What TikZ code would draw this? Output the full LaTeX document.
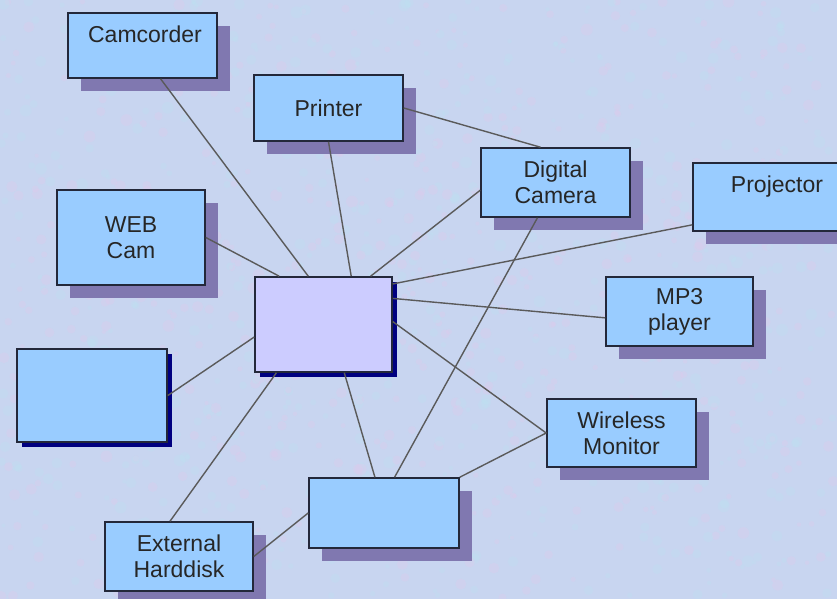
\documentclass[tikz,border=0pt]{standalone}
\usepackage{fontspec}
\setmainfont{Liberation Sans}
\usetikzlibrary{calc,shadows}
\definecolor{backc}{HTML}{C8D5F0}
\definecolor{pinkc}{HTML}{E2C8EC}
\definecolor{cyanc}{HTML}{BCE2F2}
\definecolor{boxc}{HTML}{99CCFF}
\definecolor{hubc}{HTML}{CCCCFF}
\definecolor{shdc}{HTML}{8078B0}
\definecolor{navyc}{HTML}{000080}
\definecolor{edgec}{HTML}{5A5A5A}
\definecolor{framec}{HTML}{23283A}

\begin{document}
\begin{tikzpicture}[x=1pt,y=-1pt,
    box/.style={draw=framec, line width=1.6pt, fill=boxc, inner sep=0pt,
      text=black!85, align=center, font=\fontsize{23}{26}\selectfont},
    device/.style={box, drop shadow={shadow xshift=13pt, shadow yshift=-13pt, fill=shdc, opacity=1}},
    plain/.style={box, drop shadow={shadow xshift=5pt, shadow yshift=-5pt, fill=navyc, opacity=1}},
    link/.style={draw=edgec, line width=1.4pt}]
		%%%%% BACKGROUND %%%%%
		\path[use as bounding box, fill=backc] (0, 0) rectangle (837, 599);
		\pgfmathsetseed{11}
		\foreach \i in {1,...,600}{
			\fill[pinkc, opacity=0.3] (837*rnd, 599*rnd) circle (2+4*rnd);
			\fill[cyanc, opacity=0.3] (837*rnd, 599*rnd) circle (2+4*rnd);
		}
		
		%%%%% BOXES %%%%%
		\node[device, minimum width=149, minimum height=65,
			label={[xshift=2.5pt, yshift=11.5pt, text=black!85, font=\fontsize{23}{26}\selectfont]center:Camcorder}] (cam) at (142.5, 45.5) {};
		\node[device, minimum width=149, minimum height=66] (prn) at (328.5, 108) {Printer};
		\node[device, minimum width=149, minimum height=69] (dig) at (555.5, 182.5) {Digital\\Camera};
		\node[device, minimum width=157, minimum height=68,
			label={[xshift=5.5pt, yshift=10pt, text=black!85, font=\fontsize{23}{26}\selectfont]center:Projector}] (prj) at (771.5, 197) {};
		\node[device, minimum width=148, minimum height=95] (web) at (131, 237.5) {WEB\\Cam};
		\node[device, minimum width=147, minimum height=69] (mp3) at (679.5, 311.5) {MP3\\player};
		\node[device, minimum width=149, minimum height=68] (wir) at (621.5, 433) {Wireless\\Monitor};
		\node[plain, fill=hubc, minimum width=137, minimum height=95] (hub) at (323.5, 324.5) {};
		\node[plain, minimum width=150, minimum height=93] (lft) at (92, 395.5) {};
		\node[device, minimum width=150, minimum height=70] (bot) at (384, 513) {};
		\node[device, minimum width=148, minimum height=69] (hdd) at (179, 556.5) {External\\Harddisk};
		
		%%%%% LINKS %%%%%
		\draw[link] ($(cam.south west)!0.62!(cam.south east)$) -- ($(hub.north west)!0.39!(hub.north east)$);
		\draw[link] (prn.south) -- ($(hub.north west)!0.70!(hub.north east)$);
		\draw[link] ($(dig.north west)!0.61!(dig.south west)$) -- ($(hub.north west)!0.84!(hub.north east)$);
		\draw[link] (web.east) -- ($(hub.north west)!0.18!(hub.north east)$);
		\draw[link] ($(prj.north west)!0.9!(prj.south west)$) -- ($(hub.north east)!0.08!(hub.south east)$);
		\draw[link] ($(mp3.north west)!0.59!(mp3.south west)$) -- ($(hub.north east)!0.23!(hub.south east)$);
		\draw[link] (wir.west) -- ($(hub.north east)!0.47!(hub.south east)$);
		\draw[link] (lft.east) -- ($(hub.north west)!0.63!(hub.south west)$);
		\draw[link] ($(hdd.north west)!0.44!(hdd.north east)$) -- ($(hub.south west)!0.16!(hub.south east)$);
		\draw[link] ($(hub.south west)!0.65!(hub.south east)$) -- ($(bot.north west)!0.44!(bot.north east)$);
		
		\draw[link] (prn.east) -- ($(dig.north west)!0.40!(dig.north east)$);
		\draw[link] ($(dig.south west)!0.38!(dig.south east)$) -- ($(bot.north west)!0.57!(bot.north east)$);
		\draw[link] (bot.north east) -- (wir.west);
		\draw[link] (hdd.east) -- (bot.west);
		
		%%%%% END %%%%%
	\end{tikzpicture}
\end{document}
